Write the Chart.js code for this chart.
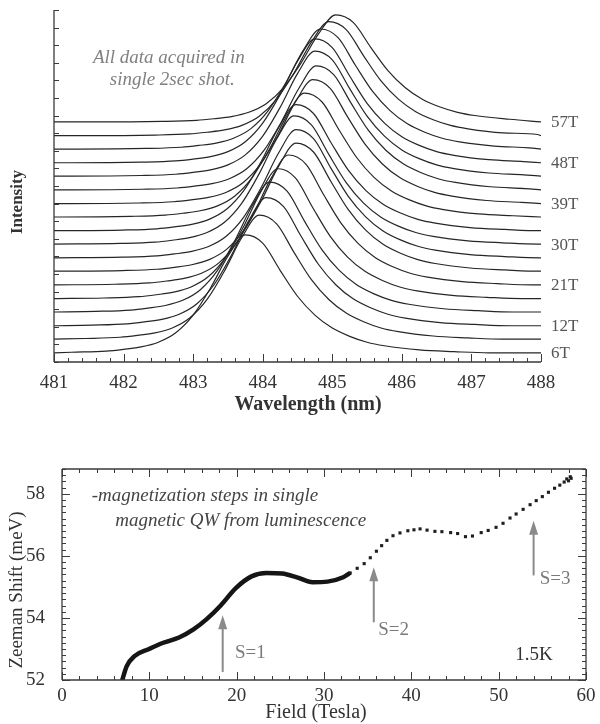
<!DOCTYPE html>
<html lang="en">
<head>
  <meta charset="UTF-8" />
  <title>Magneto-luminescence spectra and Zeeman shift</title>
  <script src="https://cdn.jsdelivr.net/npm/chart.js"></script>
  <style>
    html, body { margin: 0; padding: 0; background: #fff; }
    #wrap { position: relative; width: 600px; height: 724px; }
    #spectraBox { position: absolute; left: 0; top: 0; width: 600px; height: 420px; }
    #shiftBox { position: absolute; left: 0; top: 420px; width: 600px; height: 304px; }
  </style>
</head>
<body>
  <div id="wrap">
    <div id="spectraBox"><canvas id="spectraChart"></canvas></div>
    <div id="shiftBox"><canvas id="shiftChart"></canvas></div>
  </div>

  <script>
    // ---- top panel: one spectrum every 3 T, stacked with an offset ----
    const fields = [6, 9, 12, 15, 18, 21, 24, 27, 30, 33, 36, 39, 42, 45, 48, 51, 54, 57];
    const baselines = [2.6, 6.5, 10.3, 14.2, 18.0, 21.9, 25.8, 29.6, 33.5, 37.3, 41.2, 45.0, 48.9, 52.8, 56.6, 60.5, 64.3, 68.2];
    const peakNm = [483.75, 483.95, 484.05, 484.10, 484.22, 484.37, 484.48, 484.48, 484.45, 484.48, 484.60, 484.72, 484.77, 484.75, 484.75, 484.83, 484.95, 485.05];
    const peakHeight = [33.5, 35.2, 36.4, 36.9, 36.9, 36.9, 36.4, 36.4, 36.4, 35.8, 35.2, 35.2, 35.2, 35.5, 35.2, 34.1, 32.4, 30.4];
    // line shape (nm from the peak, fraction of peak height)
    const profileOffset = [-3.5, -2.5, -2.0, -1.75, -1.5, -1.25, -1.0, -0.75, -0.5, -0.25, 0, 0.25, 0.5, 0.75, 1.0, 1.25, 1.5, 1.75, 2.0, 2.5, 3.0, 3.5];
    const profileShape = [0, 0.005, 0.015, 0.03, 0.05, 0.09, 0.17, 0.32, 0.55, 0.82, 1.0, 0.93, 0.70, 0.48, 0.32, 0.21, 0.14, 0.09, 0.06, 0.025, 0.01, 0];
    const labelFields = [6, 12, 21, 30, 39, 48, 57];

    // ---- bottom panel: Zeeman shift vs field ----
    const denseField = [6.75, 7.4, 8.3, 9.9, 11.6, 13.4, 15.1, 16.6, 18.2, 19.9, 21.7, 23.4, 25.2, 26.9, 28.7, 30.4, 32.2, 33.0];
    const denseShift = [51.85, 52.44, 52.77, 52.99, 53.2, 53.37, 53.64, 53.97, 54.41, 54.96, 55.34, 55.45, 55.43, 55.31, 55.15, 55.17, 55.31, 55.45];
    const sparseField = [33.0, 33.8, 34.6, 35.3, 36.0, 36.6, 37.2, 37.9, 38.7, 39.6, 40.3, 41.0, 41.8, 42.7, 43.5, 44.5, 45.3, 46.2, 47.0, 48.0, 48.8, 49.7, 50.5, 51.3, 52.0, 52.8, 53.6, 54.3, 55.0, 55.7, 56.4, 57.0, 57.5, 57.8, 58.0, 58.2, 58.3];
    const sparseShift = [55.45, 55.6, 55.75, 55.94, 56.15, 56.33, 56.5, 56.65, 56.74, 56.81, 56.84, 56.87, 56.83, 56.79, 56.78, 56.75, 56.72, 56.62, 56.64, 56.75, 56.82, 56.92, 57.05, 57.22, 57.35, 57.5, 57.65, 57.78, 57.91, 58.05, 58.18, 58.28, 58.38, 58.48, 58.42, 58.55, 58.5];
    const arrowField = [18.4, 35.7, 54.0];
    const arrowFrom = [52.26, 53.86, 55.37];
    const arrowTo = [54.09, 55.63, 57.13];

    const serif = '"Liberation Serif", "DejaVu Serif", serif';
    const axisColor = '#3a3a3a';
    Chart.defaults.font.family = serif;
    Chart.defaults.color = '#333';

    // axis lines + inward major/minor ticks
    const frameAndTicks = {
      id: 'frameAndTicks',
      afterDatasetsDraw(chart, args, opts) {
        const { ctx, chartArea: a, scales } = chart;
        ctx.save();
        ctx.strokeStyle = axisColor;
        ctx.lineWidth = 1.3;
        ctx.beginPath();
        opts.sides.forEach(side => {
          if (side === 'left') { ctx.moveTo(a.left, a.top); ctx.lineTo(a.left, a.bottom); }
          if (side === 'right') { ctx.moveTo(a.right, a.top); ctx.lineTo(a.right, a.bottom); }
          if (side === 'top') { ctx.moveTo(a.left, a.top); ctx.lineTo(a.right, a.top); }
          if (side === 'bottom') { ctx.moveTo(a.left, a.bottom); ctx.lineTo(a.right, a.bottom); }
        });
        ctx.stroke();
        ctx.lineWidth = 1;
        ctx.beginPath();
        opts.ticks.forEach(t => {
          const s = scales[t.scale];
          const first = Math.ceil(s.min / t.minor - 1e-6);
          const last = Math.floor(s.max / t.minor + 1e-6);
          for (let k = first; k <= last; k++) {
            const v = k * t.minor;
            const q = v / t.major;
            const len = Math.abs(q - Math.round(q)) < 1e-6 ? t.majorLen : t.minorLen;
            const p = Math.round(s.getPixelForValue(v)) + 0.5;
            t.sides.forEach(side => {
              if (side === 'bottom') { ctx.moveTo(p, a.bottom); ctx.lineTo(p, a.bottom - len); }
              if (side === 'top') { ctx.moveTo(p, a.top); ctx.lineTo(p, a.top + len); }
              if (side === 'left') { ctx.moveTo(a.left, p); ctx.lineTo(a.left + len, p); }
              if (side === 'right') { ctx.moveTo(a.right, p); ctx.lineTo(a.right - len, p); }
            });
          }
        });
        ctx.stroke();
        ctx.restore();
      }
    };

    // free text: axis titles (pixels) and annotations (data units)
    const notes = {
      id: 'notes',
      afterDraw(chart, args, opts) {
        const { ctx, scales } = chart;
        opts.items.forEach(n => {
          const x = n.data ? scales.x.getPixelForValue(n.x) : n.x;
          const y = n.data ? scales.y.getPixelForValue(n.y) : n.y;
          ctx.save();
          ctx.translate(x, y);
          if (n.rotate) ctx.rotate(n.rotate);
          ctx.font = n.font;
          ctx.fillStyle = n.color;
          ctx.textAlign = n.align || 'center';
          ctx.textBaseline = 'middle';
          ctx.fillText(n.text, 0, 0);
          ctx.restore();
        });
      }
    };

    // field labels to the right of the stacked spectra
    const curveLabels = {
      id: 'curveLabels',
      afterDraw(chart) {
        const { ctx, chartArea: a, scales } = chart;
        ctx.save();
        ctx.font = '17px ' + serif;
        ctx.fillStyle = '#555';
        ctx.textAlign = 'left';
        ctx.textBaseline = 'middle';
        labelFields.forEach(f => {
          const i = fields.indexOf(f);
          ctx.fillText(f + 'T', a.right + 10, scales.y.getPixelForValue(baselines[i]) + 1);
        });
        ctx.restore();
      }
    };

    // grey arrows marking the magnetization steps
    const stepArrows = {
      id: 'stepArrows',
      afterDatasetsDraw(chart) {
        const { ctx, scales } = chart;
        ctx.save();
        ctx.strokeStyle = '#8a8a8a';
        ctx.fillStyle = '#8a8a8a';
        ctx.lineWidth = 2;
        arrowField.forEach((f, i) => {
          const x = scales.x.getPixelForValue(f);
          const y0 = scales.y.getPixelForValue(arrowFrom[i]);
          const y1 = scales.y.getPixelForValue(arrowTo[i]);
          ctx.beginPath();
          ctx.moveTo(x, y0);
          ctx.lineTo(x, y1 + 10);
          ctx.stroke();
          ctx.beginPath();
          ctx.moveTo(x, y1);
          ctx.lineTo(x - 4.5, y1 + 14);
          ctx.lineTo(x + 4.5, y1 + 14);
          ctx.closePath();
          ctx.fill();
        });
        ctx.restore();
      }
    };

    const tickFont = { family: serif, size: 19 };

    const spectra = fields.map((f, i) => {
      const pts = [{ x: 481, y: baselines[i] }];
      profileOffset.forEach((o, k) => {
        const x = peakNm[i] + o;
        if (x > 481 && x < 488) pts.push({ x, y: baselines[i] + peakHeight[i] * profileShape[k] });
      });
      pts.push({ x: 488, y: baselines[i] });
      return {
        label: f + 'T',
        data: pts,
        showLine: true,
        borderColor: '#262626',
        borderWidth: 1.2,
        pointRadius: 0,
        cubicInterpolationMode: 'monotone'
      };
    });

    new Chart(document.getElementById('spectraChart'), {
      type: 'scatter',
      data: { datasets: spectra },
      options: {
        responsive: true,
        maintainAspectRatio: false,
        animation: false,
        devicePixelRatio: 1,
        layout: { padding: { top: 10, right: 59, left: 0, bottom: 0 } },
        plugins: {
          legend: { display: false },
          tooltip: { enabled: false },
          frameAndTicks: {
            sides: ['left', 'bottom'],
            ticks: [
              { scale: 'x', minor: 0.2, major: 1, minorLen: 4, majorLen: 8, sides: ['bottom'] },
              { scale: 'y', minor: 5, major: 1000, minorLen: 5, majorLen: 5, sides: ['left'] }
            ]
          },
          notes: {
            items: [
              { text: 'All data acquired in', x: 482.65, y: 86.4, data: true, font: 'italic 19px ' + serif, color: '#808080' },
              { text: 'single 2sec shot.', x: 482.7, y: 80.1, data: true, font: 'italic 19px ' + serif, color: '#808080' },
              { text: 'Intensity', x: 18, y: 202, rotate: -Math.PI / 2, font: 'bold 17px ' + serif, color: '#333' },
              { text: 'Wavelength (nm)', x: 308, y: 405, font: 'bold 20px ' + serif, color: '#333' }
            ]
          }
        },
        scales: {
          x: {
            type: 'linear',
            min: 481,
            max: 488,
            grid: { display: false },
            border: { display: false },
            ticks: { stepSize: 1, padding: 2, font: tickFont, color: '#333' },
            afterFit(scale) { scale.height = 58; }
          },
          y: {
            min: 0,
            max: 100,
            grid: { display: false },
            border: { display: false },
            ticks: { display: false },
            afterFit(scale) { scale.width = 54; }
          }
        }
      },
      plugins: [frameAndTicks, notes, curveLabels]
    });

    new Chart(document.getElementById('shiftChart'), {
      type: 'scatter',
      data: {
        datasets: [
          {
            label: 'Zeeman shift',
            data: denseField.map((f, i) => ({ x: f, y: denseShift[i] })),
            showLine: true,
            borderColor: '#151515',
            borderWidth: 4.5,
            pointRadius: 0,
            cubicInterpolationMode: 'monotone'
          },
          {
            label: 'Zeeman shift (sparse)',
            data: sparseField.map((f, i) => ({ x: f, y: sparseShift[i] })),
            pointStyle: 'rect',
            pointRadius: 2.2,
            backgroundColor: '#1e1e1e',
            borderWidth: 0
          }
        ]
      },
      options: {
        responsive: true,
        maintainAspectRatio: false,
        animation: false,
        devicePixelRatio: 1,
        layout: { padding: { top: 49, right: 14, left: 0, bottom: 0 } },
        plugins: {
          legend: { display: false },
          tooltip: { enabled: false },
          frameAndTicks: {
            sides: ['left', 'right', 'top', 'bottom'],
            ticks: [
              { scale: 'x', minor: 2, major: 10, minorLen: 4, majorLen: 8, sides: ['bottom', 'top'] },
              { scale: 'y', minor: 0.2, major: 2, minorLen: 4, majorLen: 8, sides: ['left', 'right'] }
            ]
          },
          notes: {
            items: [
              { text: '-magnetization steps in single', x: 3.4, y: 57.94, data: true, align: 'left', font: 'italic 19px ' + serif, color: '#444' },
              { text: 'magnetic QW from luminescence', x: 6.1, y: 57.14, data: true, align: 'left', font: 'italic 19px ' + serif, color: '#444' },
              { text: 'S=1', x: 19.8, y: 52.88, data: true, align: 'left', font: '19px ' + serif, color: '#7a7a7a' },
              { text: 'S=2', x: 36.2, y: 53.62, data: true, align: 'left', font: '19px ' + serif, color: '#7a7a7a' },
              { text: 'S=3', x: 54.7, y: 55.25, data: true, align: 'left', font: '19px ' + serif, color: '#7a7a7a' },
              { text: '1.5K', x: 51.9, y: 52.81, data: true, align: 'left', font: '19px ' + serif, color: '#333' },
              { text: 'Zeeman Shift (meV)', x: 17, y: 170, rotate: -Math.PI / 2, font: '19px ' + serif, color: '#333' },
              { text: 'Field (Tesla)', x: 316, y: 293, font: '20px ' + serif, color: '#333' }
            ]
          }
        },
        scales: {
          x: {
            type: 'linear',
            min: 0,
            max: 60,
            grid: { display: false },
            border: { display: false },
            ticks: { stepSize: 10, padding: -3, font: tickFont, color: '#333' },
            afterFit(scale) { scale.height = 44; }
          },
          y: {
            min: 52,
            max: 58.8,
            grid: { display: false },
            border: { display: false },
            ticks: { stepSize: 2, includeBounds: false, padding: 9, font: tickFont, color: '#333' },
            afterFit(scale) { scale.width = 62; }
          }
        }
      },
      plugins: [frameAndTicks, notes, stepArrows]
    });
  </script>
</body>
</html>
